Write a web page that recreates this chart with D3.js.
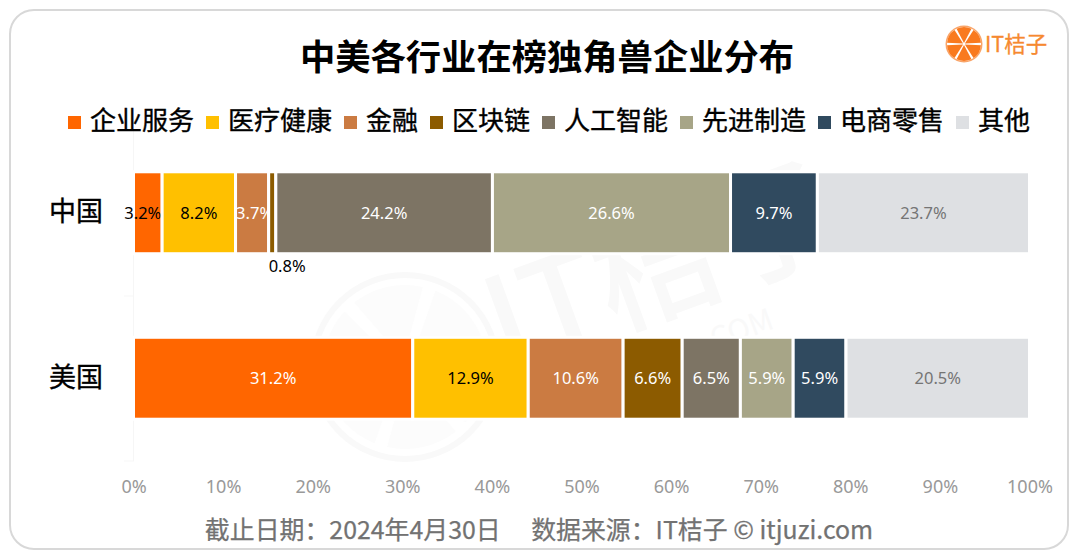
<!DOCTYPE html>
<html>
<head>
  <meta charset="utf-8">
  <script src="https://d3js.org/d3.v7.min.js"></script>
  <style>
    html, body { margin: 0; padding: 0; background: #fff; }
    svg { display: block; }
    text { font-family: "Noto Sans CJK SC", "Noto Sans", sans-serif; }
    .pct text, text.pct { font-family: "Noto Sans", "Noto Sans CJK SC", sans-serif; }
  </style>
</head>
<body>
  <svg width="1080" height="560"></svg>
  <script>
    // values
    var countries = ["中国", "美国"];
    var industries = ["企业服务", "医疗健康", "金融", "区块链", "人工智能", "先进制造", "电商零售", "其他"];
    var chinaValues = [3.2, 8.2, 3.7, 0.8, 24.2, 26.6, 9.7, 23.7];
    var usValues = [31.2, 12.9, 10.6, 6.6, 6.5, 5.9, 5.9, 20.5];
    var colors = ["#ff6600", "#ffc000", "#cb7b42", "#8c5b00", "#7d7464", "#a7a587", "#304a5f", "#dee0e3"];
    var xTicks = [0, .1, .2, .3, .4, .5, .6, .7, .8, .9, 1];
    var titleText = "中美各行业在榜独角兽企业分布";
    var footerText = "截止日期：2024年4月30日　 数据来源：IT桔子 © itjuzi.com";

    var svg = d3.select("svg");

    // card border
    svg.append("rect")
      .attr("x", 10).attr("y", 10)
      .attr("width", 1058).attr("height", 539)
      .attr("rx", 24)
      .attr("fill", "#fff")
      .attr("stroke", "#d8d8d8")
      .attr("stroke-width", 2);

    // faint watermark behind the bars
    var wm = svg.append("g").attr("fill", "#f9f9f9");
    wm.append("circle")
      .attr("cx", 405).attr("cy", 367).attr("r", 92)
      .attr("fill", "none").attr("stroke", "#f9f9f9").attr("stroke-width", 6);
    wm.append("g")
      .attr("transform", "translate(405,367)")
      .selectAll("path")
      .data(d3.pie().value(1).padAngle(0.16).startAngle(0.3).endAngle(Math.PI * 2 + 0.3)([1, 1, 1, 1, 1, 1]))
      .enter().append("path")
      .attr("d", d3.arc().innerRadius(8).outerRadius(82))
      .attr("fill", "#fcfcfc");
    wm.append("text")
      .attr("transform", "translate(505,370) rotate(-20)")
      .attr("font-size", 125).attr("font-weight", 500)
      .text("IT桔子");
    wm.append("text")
      .attr("transform", "translate(707,353) rotate(-20)")
      .attr("font-size", 30)
      .text(".COM");

    // scales
    var x = d3.scaleLinear().domain([0, 1]).range([133.5, 1029.5]);
    var y = d3.scaleBand().domain(countries).range([130, 461]).paddingInner(0.505).paddingOuter(0.2525);

    // stack, the China row adds up to 100.1 so normalise it
    var rows = [chinaValues, usValues].map(function(vals, i) {
      var row = { country: countries[i] };
      industries.forEach(function(name, j) { row[name] = vals[j]; });
      return row;
    });
    var stacked = d3.stack().keys(industries).offset(d3.stackOffsetExpand)(rows);

    // very light category axis
    var yAxis = svg.append("g")
      .attr("transform", "translate(133,0)")
      .call(d3.axisLeft(y).tickSize(0).tickPadding(30));
    yAxis.select(".domain").attr("stroke", "#f6f6f6");
    yAxis.selectAll("text")
      .attr("font-size", 27)
      .attr("fill", "#000")
      .attr("stroke", "#000")
      .attr("stroke-width", 0.35);
    svg.selectAll(".sep")
      .data([296, 461])
      .enter().append("line")
      .attr("class", "sep")
      .attr("x1", 124).attr("x2", 133)
      .attr("y1", function(d) { return d; }).attr("y2", function(d) { return d; })
      .attr("stroke", "#f7f7f7");

    var xAxis = svg.append("g")
      .attr("class", "pct")
      .attr("transform", "translate(0,480)")
      .call(d3.axisBottom(x).tickValues(xTicks).tickFormat(d3.format(".0%")).tickSize(0).tickPadding(0));
    xAxis.select(".domain").remove();
    xAxis.selectAll("text").attr("font-size", 18).attr("fill", "#999");

    // bars
    var groups = svg.selectAll(".series")
      .data(stacked)
      .enter().append("g")
      .attr("class", "series")
      .attr("fill", function(d, i) { return colors[i]; });

    groups.selectAll("rect")
      .data(function(d) { return d; })
      .enter().append("rect")
      .attr("x", function(d) { return x(d[0]); })
      .attr("y", function(d) { return y(d.data.country); })
      .attr("width", function(d) { return x(d[1]) - x(d[0]); })
      .attr("height", y.bandwidth())
      .attr("stroke", "#fff")
      .attr("stroke-width", 3);

    // value labels
    function labelColor(s, value) {
      if (s === 0 && value < 5) return "#000";
      if (s === 1 || s === 3 && value < 1) return "#000";
      if (s === 7) return "#757575";
      return "#fff";
    }
    // the two narrow China labels sit a little off centre
    function labelNudge(s, value) {
      if (s === 0 && value < 5) return -5;
      if (s === 2 && value < 5) return 2.5;
      return 0;
    }
    groups.each(function(d, s) {
      d3.select(this).selectAll("text")
        .data(d)
        .enter().append("text")
        .attr("class", "pct")
        .attr("font-size", 16.5)
        .attr("fill", function(p) { return labelColor(s, p.data[d.key]); })
        .attr("text-anchor", function(p) { return p.data[d.key] < 1 ? "start" : "middle"; })
        .attr("x", function(p) {
          return p.data[d.key] < 1 ? x(p[0]) : (x(p[0]) + x(p[1])) / 2 + labelNudge(s, p.data[d.key]);
        })
        .attr("y", function(p) {
          return p.data[d.key] < 1 ? y(p.data.country) + y.bandwidth() + 12 : y(p.data.country) + y.bandwidth() / 2;
        })
        .attr("dy", "0.36em")
        .text(function(p) { return p.data[d.key].toFixed(1) + "%"; });
    });

    // title
    svg.append("text")
      .attr("x", 547).attr("y", 70)
      .attr("text-anchor", "middle")
      .attr("font-size", 35.3)
      .attr("font-weight", 700)
      .attr("fill", "#000")
      .text(titleText);

    // legend
    var legendX = 68;
    industries.forEach(function(name, i) {
      svg.append("rect")
        .attr("x", legendX).attr("y", 116)
        .attr("width", 13).attr("height", 13)
        .attr("fill", colors[i]);
      svg.append("text")
        .attr("x", legendX + 22).attr("y", 121)
        .attr("dy", "0.36em")
        .attr("font-size", 26)
        .attr("fill", "#000")
        .attr("stroke", "#000")
        .attr("stroke-width", 0.35)
        .text(name);
      legendX += 34 + 26 * name.length;
    });

    // logo
    var logo = svg.append("g").attr("transform", "translate(964,44)");
    var slices = d3.pie().value(1).padAngle(0.14).startAngle(Math.PI / 6).endAngle(Math.PI * 2 + Math.PI / 6)([1, 1, 1, 1, 1, 1]);
    logo.append("circle").attr("r", 18.5).attr("fill", "#f9a468");
    logo.append("circle").attr("r", 17).attr("fill", "#fff");
    logo.selectAll("path")
      .data(slices)
      .enter().append("path")
      .attr("d", d3.arc().innerRadius(1).outerRadius(17))
      .attr("fill", "#f97a1f");
    svg.append("text")
      .attr("x", 985).attr("y", 52)
      .attr("font-size", 21.5)
      .attr("fill", "#f6892f")
      .attr("stroke", "#f6892f")
      .attr("stroke-width", 0.3)
      .text("IT桔子");

    // footer
    svg.append("text")
      .attr("x", 539).attr("y", 530)
      .attr("dy", "0.36em")
      .attr("text-anchor", "middle")
      .attr("font-size", 24.9)
      .attr("fill", "#727272")
      .attr("stroke", "#727272")
      .attr("stroke-width", 0.25)
      .text(footerText);
  </script>
</body>
</html>
